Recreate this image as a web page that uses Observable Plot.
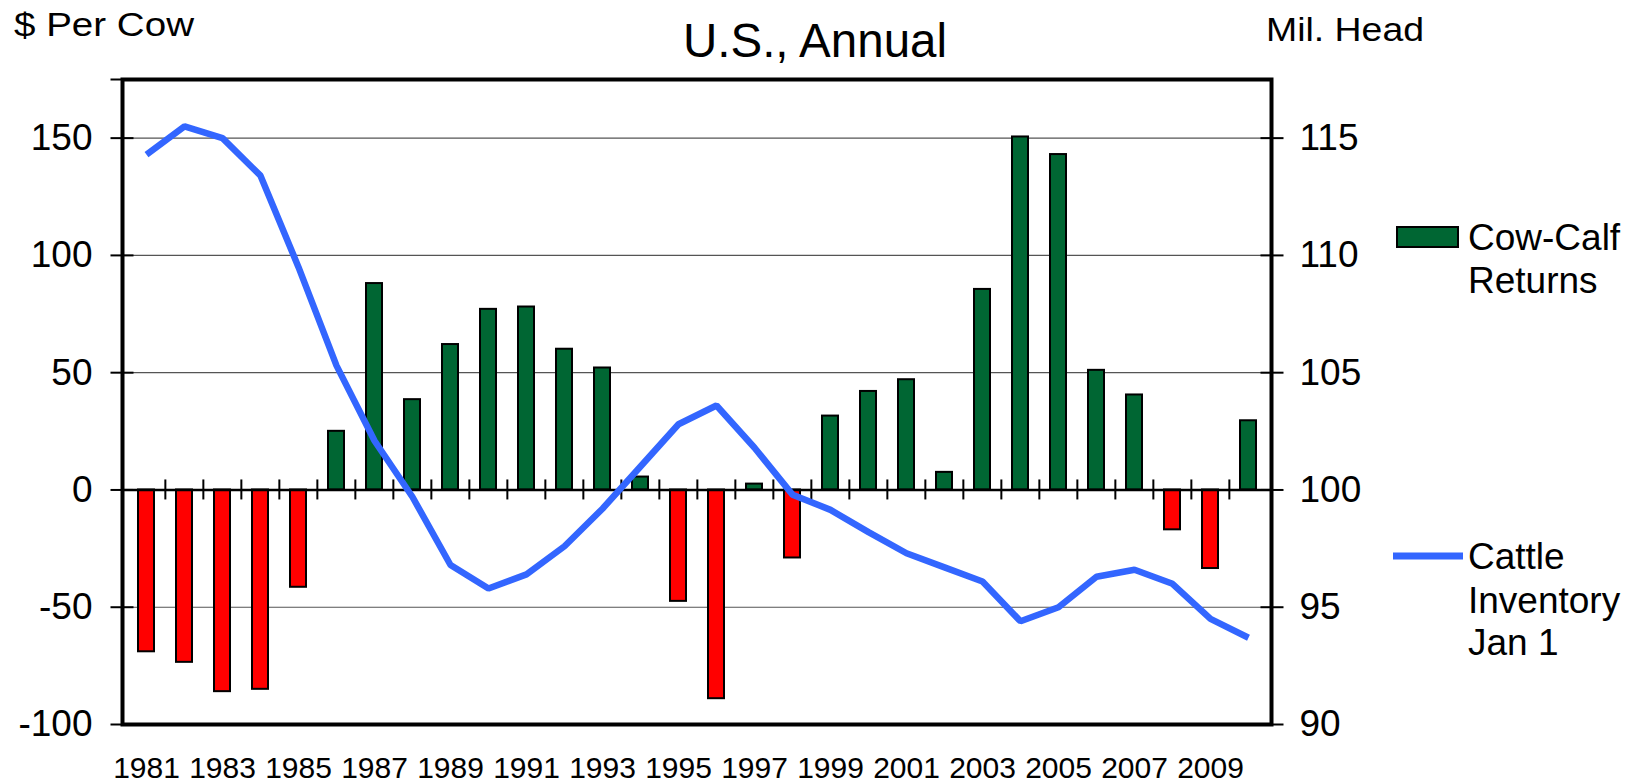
<!DOCTYPE html>
<html>
<head>
<meta charset="utf-8">
<script src="https://cdn.jsdelivr.net/npm/d3@7"></script>
<script src="https://cdn.jsdelivr.net/npm/@observablehq/plot@0.6"></script>
<style>
  html, body { margin: 0; padding: 0; background: #fff; }
  #chart { width: 1643px; height: 783px; }
  #chart svg { display: block; }
</style>
</head>
<body>
<div id="chart"></div>
<script>
// ---- data ----
const years = [1981,1982,1983,1984,1985,1986,1987,1988,1989,1990,
               1991,1992,1993,1994,1995,1996,1997,1998,1999,2000,
               2001,2002,2003,2004,2005,2006,2007,2008,2009,2010];
const cowCalfReturns = [-69,-73.5,-86,-85,-41.5,25,88,38.5,62,77,
                        78,60,52,5.5,-47.5,-89,2.5,-29,31.5,42,
                        47,7.5,85.5,150.5,143,51,40.5,-17,-33.5,29.5];
const cattleInventory = [114.3,115.5,115.0,113.4,109.5,105.3,102.1,99.7,96.8,95.8,
                         96.4,97.6,99.2,101.0,102.8,103.6,101.8,99.8,99.15,98.2,
                         97.3,96.7,96.1,94.4,95.0,96.3,96.6,96.0,94.5,93.7];
const xTickLabels = [1981,1983,1985,1987,1989,1991,1993,1995,1997,1999,2001,2003,2005,2007,2009];
const leftTicks = [-100,-50,0,50,100,150];
const leftTickMarks = [-100,-50,0,50,100,150,175];
const rightTicks = [90,95,100,105,110,115];
const gridLines = [-50,50,100,150];

// ---- layout / style ----
const W = 1643, H = 783;
const ML = 122, MR = 372, MT = 79, MB = 59;
const GREEN = "#006633", RED = "#ff0000", BLUE = "#3366ff";
const FONT = "'Liberation Sans', Arial, Helvetica, sans-serif";

// right axis maps linearly onto left axis: right = 100 + left/10
const toLeft = v => (v - 100) * 10;
const fromLeft = v => 100 + v / 10;

const data = years.map((year, i) => ({year, ret: cowCalfReturns[i], inv: cattleInventory[i]}));
const step = (W - ML - MR) / years.length;

const svg = Plot.plot({
  width: W, height: H,
  marginLeft: ML, marginRight: MR, marginTop: MT, marginBottom: MB,
  style: {fontFamily: FONT, color: "#000", background: "#fff", overflow: "visible"},
  x: {type: "band", domain: years, paddingInner: 0.58, paddingOuter: 0.29, align: 0.5, label: null},
  y: {domain: [-100, 175], label: null},
  color: {type: "identity"},
  marks: [
    Plot.ruleY(gridLines, {stroke: "#555", strokeWidth: 1.2}),
    Plot.barY(data, {x: "year", y: "ret", fill: d => d.ret >= 0 ? GREEN : RED, stroke: "#000", strokeWidth: 2}),
    Plot.ruleY([0], {stroke: "#000", strokeWidth: 2.5}),
    Plot.ruleX(years.slice(1), {x: d => d, y1: 0, y2: 0, insetTop: -10, insetBottom: -10, dx: -step / 2, stroke: "#000", strokeWidth: 2}),
    Plot.line(data, {x: "year", y: d => toLeft(d.inv), stroke: BLUE, strokeWidth: 6.5, strokeLinejoin: "miter", strokeLinecap: "butt"}),
    Plot.frame({stroke: "#000", strokeWidth: 4}),
    // left axis: crossing tick marks
    Plot.axisY({anchor: "left", ticks: leftTickMarks, tickSize: 23, dx: 11.5, strokeWidth: 2, tickFormat: () => "", label: null}),
    // left axis labels
    Plot.axisY({anchor: "left", ticks: leftTicks, tickSize: 0, tickPadding: 30, fontSize: 37, tickFormat: d => String(d), label: null}),
    // right axis: crossing tick marks
    Plot.axisY({anchor: "right", ticks: rightTicks.map(toLeft), tickSize: 23, dx: -11.5, strokeWidth: 2, tickFormat: () => "", label: null}),
    // right axis labels
    Plot.axisY({anchor: "right", ticks: rightTicks.map(toLeft), tickSize: 0, tickPadding: 28, fontSize: 37, tickFormat: d => String(fromLeft(d)), label: null}),
    // x axis labels
    Plot.axisX({anchor: "bottom", ticks: xTickLabels, tickSize: 0, tickPadding: 32, fontSize: 30, tickFormat: d => String(d), label: null})
  ]
});

const s = d3.select(svg);
function addText(str, x, y, size, anchor = "start") {
  return s.append("text").attr("x", x).attr("y", y)
    .attr("font-family", FONT).attr("font-size", size)
    .attr("text-anchor", anchor).attr("fill", "#000").text(str);
}
// titles
addText("U.S., Annual", 815, 57, 47.5, "middle");
addText("$ Per Cow", 14, 36, 33).attr("textLength", 180).attr("lengthAdjust", "spacingAndGlyphs");
addText("Mil. Head", 1266, 41, 34).attr("textLength", 158).attr("lengthAdjust", "spacingAndGlyphs");

// legend
s.append("rect").attr("x", 1397).attr("y", 227).attr("width", 61).attr("height", 20)
  .attr("fill", GREEN).attr("stroke", "#000").attr("stroke-width", 2);
addText("Cow-Calf", 1468, 250, 37);
addText("Returns", 1468, 293, 37);
s.append("line").attr("x1", 1393).attr("x2", 1463).attr("y1", 556).attr("y2", 556)
  .attr("stroke", BLUE).attr("stroke-width", 7);
addText("Cattle", 1468, 569, 37);
addText("Inventory", 1468, 612.5, 37);
addText("Jan 1", 1468, 655, 37);

document.getElementById("chart").appendChild(svg);
</script>
</body>
</html>
